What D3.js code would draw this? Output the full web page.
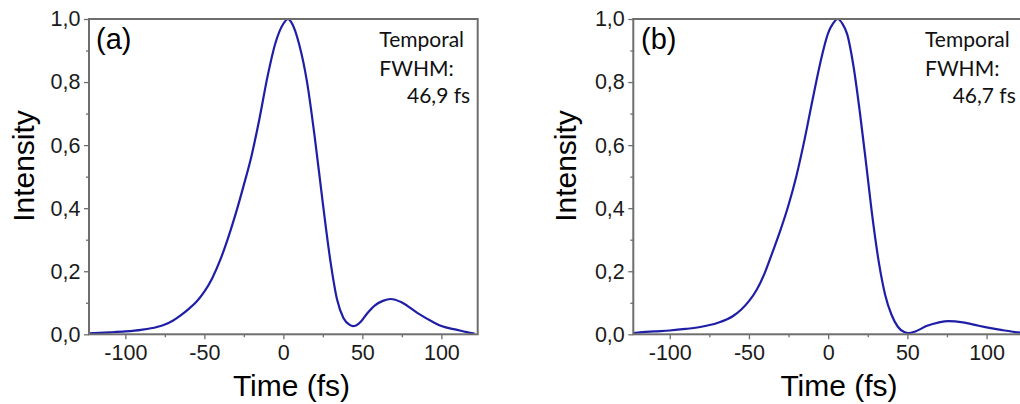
<!DOCTYPE html>
<html><head><meta charset="utf-8">
<script src="https://cdn.jsdelivr.net/npm/d3@7"></script>
<style>
html,body{margin:0;padding:0;background:#fff;}
svg{display:block;}
</style></head>
<body>
<svg id="chart" width="1020" height="404"></svg>
<script>
// ---- data ----
const timeA = [-123,-110,-100,-90,-80,-75,-70,-65,-60,-55,-50,-45,-40,-35,-30,-25,-20,-15,-10,-5,0,3,5,10,15,20,25,30,34,38,42,44,46,49,53,58,63,68,75,85,95,100,110,116,121];
const intensityA = [0.003,0.006,0.009,0.014,0.023,0.031,0.043,0.06,0.08,0.103,0.135,0.178,0.235,0.305,0.385,0.474,0.569,0.687,0.818,0.924,0.985,1.0,0.99,0.92,0.80,0.62,0.415,0.225,0.11,0.052,0.03,0.026,0.028,0.04,0.066,0.092,0.106,0.112,0.101,0.067,0.038,0.026,0.014,0.007,0.002];
const timeB = [-123,-110,-100,-90,-80,-70,-60,-55,-50,-45,-40,-35,-30,-25,-20,-15,-10,-5,0,3,6,9,12,16,20,24,28,32,36,40,44,48,51,55,62,70,76,85,95,100,110,118,124];
const intensityB = [0.004,0.009,0.012,0.017,0.024,0.036,0.058,0.078,0.105,0.142,0.195,0.262,0.332,0.41,0.503,0.615,0.74,0.86,0.955,0.985,1.0,0.985,0.952,0.85,0.705,0.54,0.37,0.228,0.125,0.062,0.024,0.007,0.004,0.009,0.026,0.038,0.042,0.038,0.027,0.022,0.013,0.007,0.004];
const xTicks = [-100,-50,0,50,100];
const xMinorTicks = [-75,-25,25,75];
const yTicks = [0,0.2,0.4,0.6,0.8,1.0];
const yMinorTicks = [0.1,0.3,0.5,0.7,0.9];
const panelLabels = ["(a)","(b)"];
const noteLines = [["Temporal","FWHM:","46,9 fs"],["Temporal","FWHM:","46,7 fs"]];
const xTitle = "Time (fs)";
const yTitle = "Intensity";

// ---- layout ----
const panels = [
  {left:89, right:477.7, time:timeA, val:intensityA, label:panelLabels[0], note:noteLines[0],
   labelX:96, noteX:379.3, noteX3:407, titleX:291.5, yTitleX:33.5},
  {left:633.3, right:1023, time:timeB, val:intensityB, label:panelLabels[1], note:noteLines[1],
   labelX:641, noteX:925, noteX3:952.7, titleX:839, yTitleX:575.5}
];
const plotTop = 19, plotBottom = 334.3;
const svg = d3.select("#chart");
const axisColor = "#6e6e6e";
const lineColor = "#1e1ea6";
const fmtY = d => d3.format(".1f")(d).replace(".", ",");

panels.forEach(p => {
  const g = svg.append("g");
  const x = d3.scaleLinear().domain([-123,123]).range([p.left,p.right]);
  const y = d3.scaleLinear().domain([0,1]).range([plotBottom,plotTop]);

  // curve
  const line = d3.line().x((d,i)=>x(p.time[i])).y((d,i)=>y(p.val[i])).curve(d3.curveMonotoneX);
  g.append("path").datum(p.val).attr("d", line)
    .attr("fill","none").attr("stroke",lineColor).attr("stroke-width",2.2);

  // minor ticks
  g.append("g").attr("transform",`translate(0,${plotBottom})`)
    .call(d3.axisBottom(x).tickValues(xMinorTicks).tickSize(3).tickSizeOuter(0).tickFormat(""))
    .call(a=>a.select(".domain").remove());
  g.append("g").attr("transform",`translate(${p.left},0)`)
    .call(d3.axisLeft(y).tickValues(yMinorTicks).tickSize(3).tickSizeOuter(0).tickFormat(""))
    .call(a=>a.select(".domain").remove());

  // major axes
  const xa = g.append("g").attr("transform",`translate(0,${plotBottom})`)
    .call(d3.axisBottom(x).tickValues(xTicks).tickSize(5).tickSizeOuter(0).tickPadding(6).tickFormat(d=>String(d)));
  const ya = g.append("g").attr("transform",`translate(${p.left},0)`)
    .call(d3.axisLeft(y).tickValues(yTicks).tickSize(5).tickSizeOuter(0).tickPadding(3.5).tickFormat(fmtY));
  [xa,ya].forEach(a=>{
    a.selectAll("text").attr("font-family","Liberation Sans, Arial, sans-serif").attr("font-size",21.5).attr("fill","#1a1a1a");
    a.select(".domain").remove();
  });
  xa.selectAll("text").attr("dy","0.68em");
  g.selectAll(".tick line").attr("stroke",axisColor).attr("stroke-width",1.3);

  // frame
  g.append("rect").attr("x",p.left).attr("y",plotTop).attr("width",p.right-p.left).attr("height",plotBottom-plotTop)
    .attr("fill","none").attr("stroke",axisColor).attr("stroke-width",2);

  // titles
  g.append("text").attr("x",p.titleX).attr("y",395.5).attr("text-anchor","middle")
    .attr("font-family","Liberation Sans, Arial, sans-serif").attr("font-size",30).attr("fill","#000").text(xTitle);
  g.append("text").attr("transform",`translate(${p.yTitleX},166) rotate(-90)`).attr("text-anchor","middle")
    .attr("font-family","Liberation Sans, Arial, sans-serif").attr("font-size",30).attr("fill","#000").text(yTitle);

  // panel label
  g.append("text").attr("x",p.labelX).attr("y",48.5)
    .attr("font-family","Liberation Sans, Arial, sans-serif").attr("font-size",29).attr("fill","#000").text(p.label);

  // note
  const nf = "Lato, 'Open Sans', sans-serif";
  g.append("text").attr("x",p.noteX).attr("y",46.7).attr("font-family",nf).attr("font-size",21).attr("fill","#111").text(p.note[0]);
  g.append("text").attr("x",p.noteX).attr("y",76).attr("font-family",nf).attr("font-size",21).attr("fill","#111").text(p.note[1]);
  g.append("text").attr("x",p.noteX3).attr("y",103).attr("font-family",nf).attr("font-size",21).attr("fill","#111").text(p.note[2]);
});
</script>
</body></html>
